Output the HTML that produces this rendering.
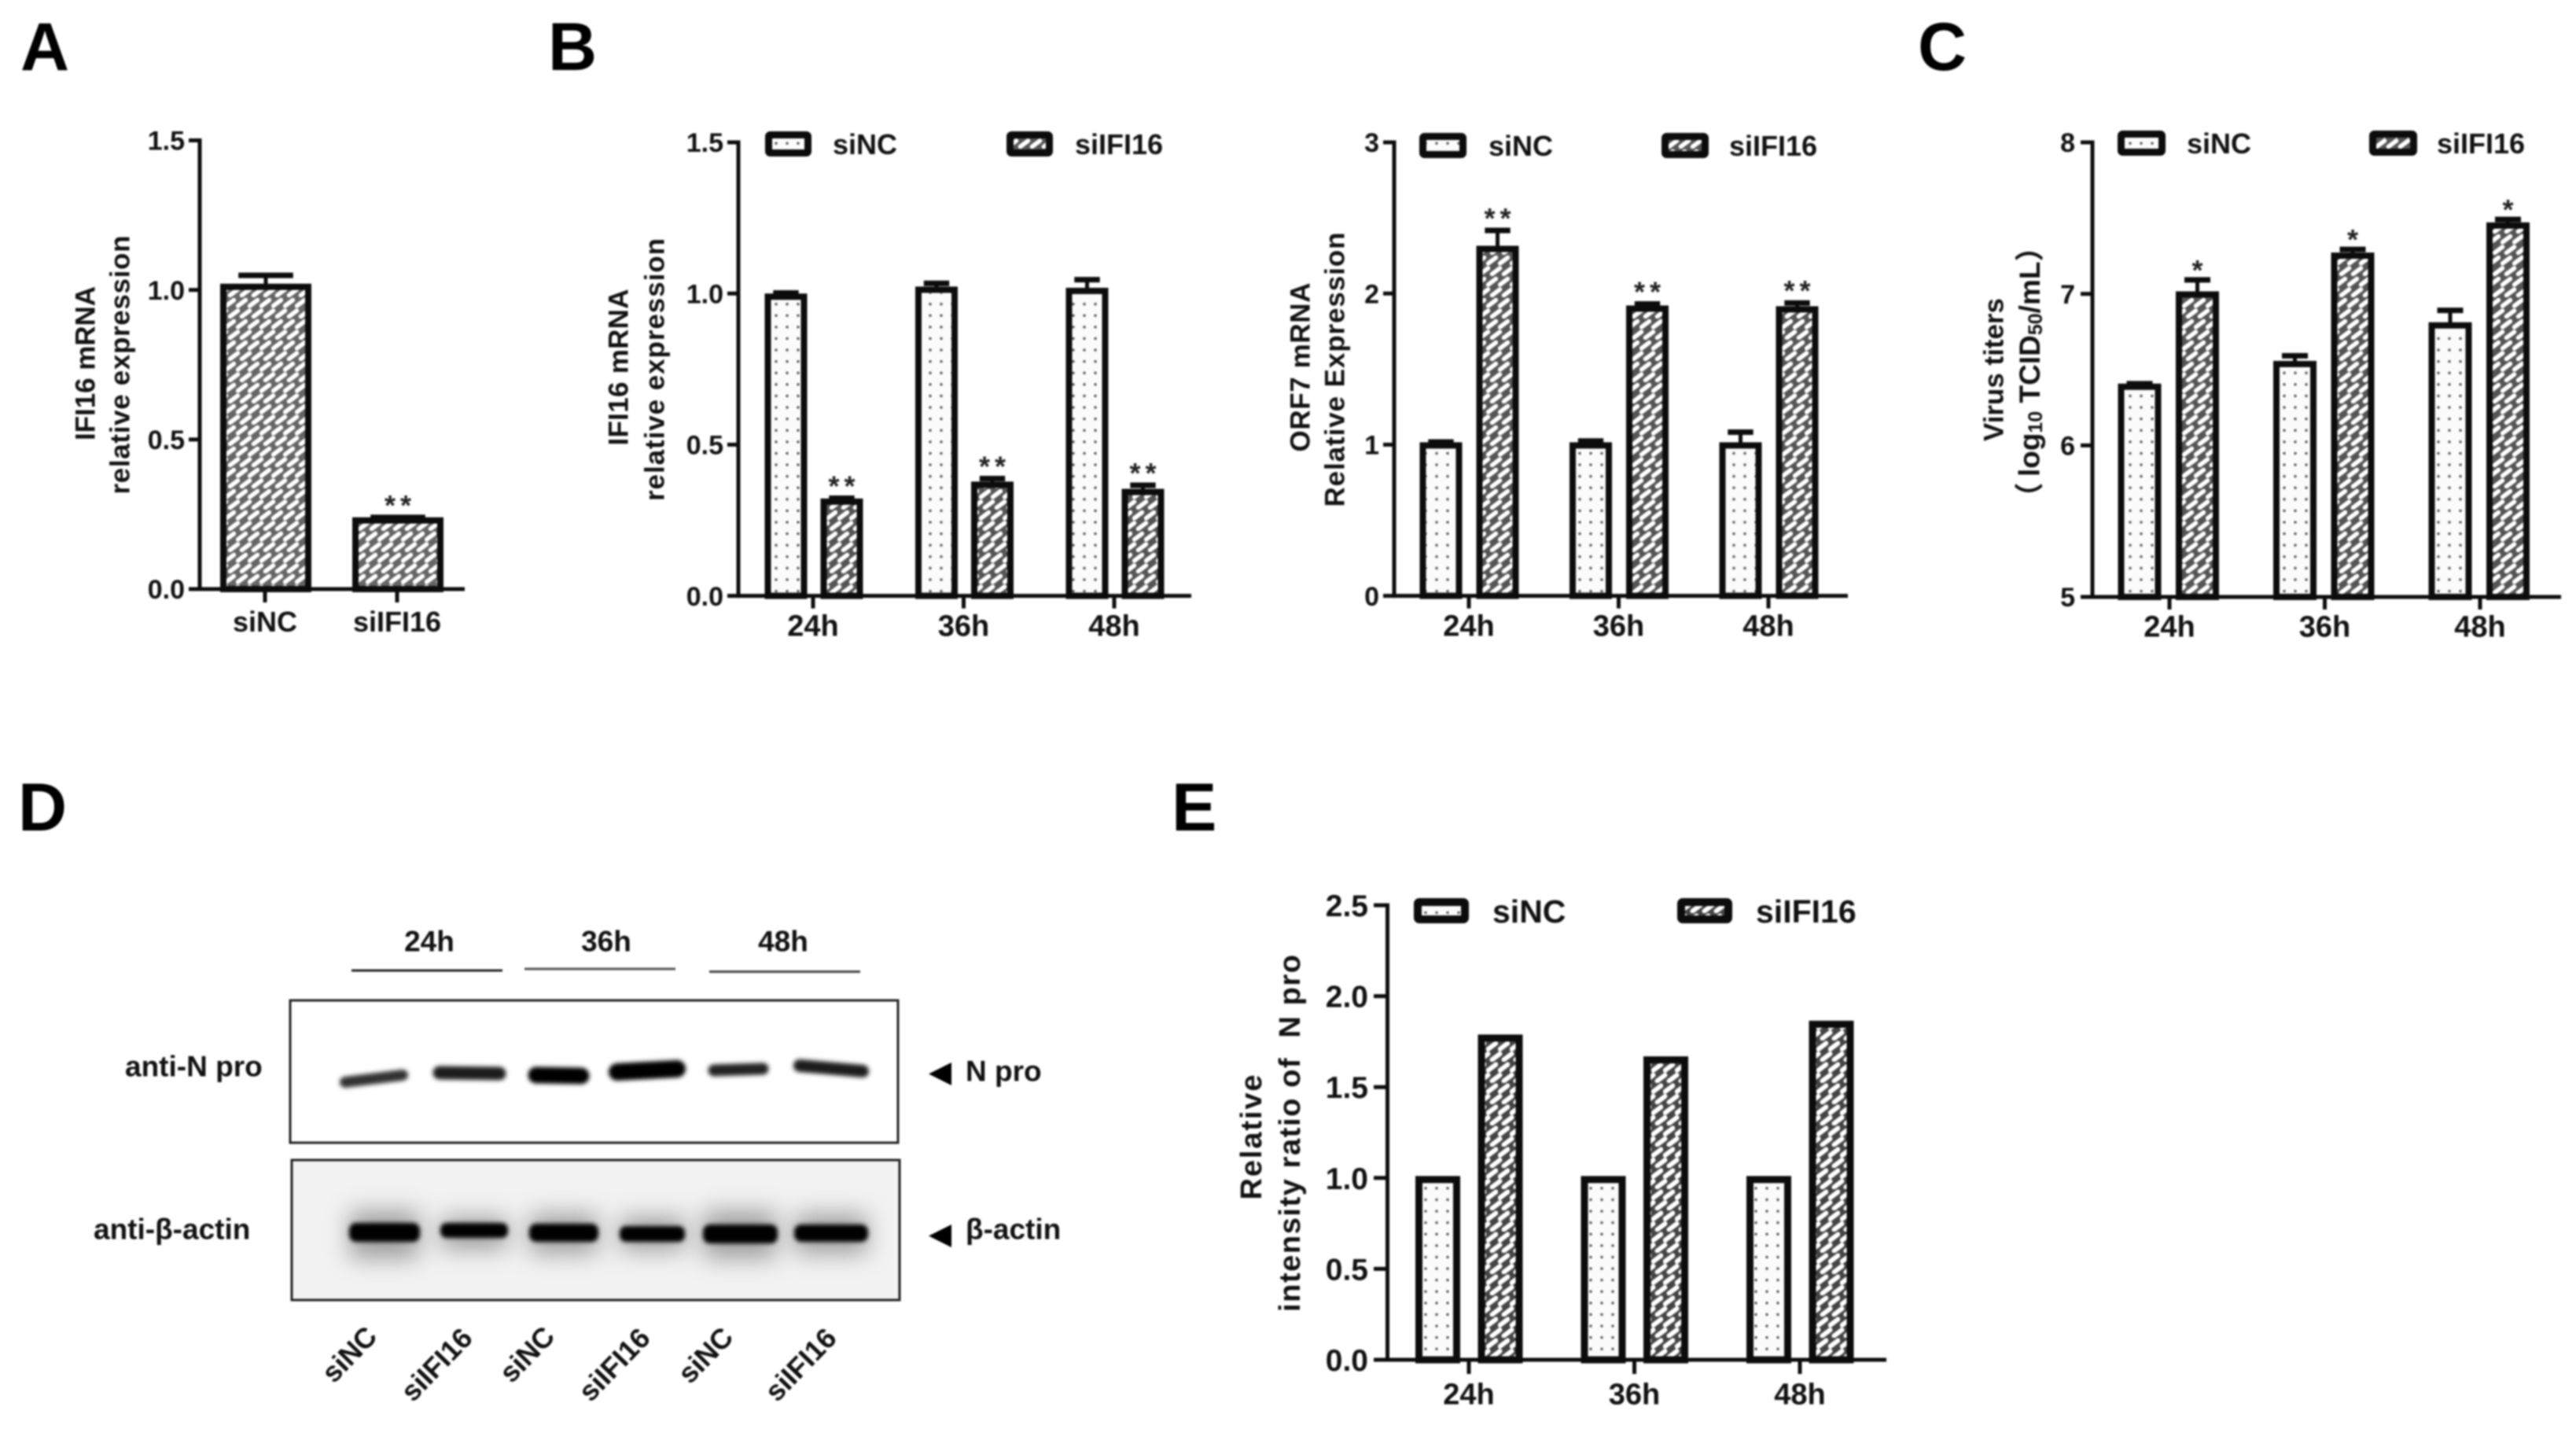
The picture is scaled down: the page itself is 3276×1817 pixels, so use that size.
<!DOCTYPE html>
<html lang="en">
<head>
<meta charset="utf-8">
<title>IFI16 knockdown figure panels</title>
<style>
html,body{margin:0;padding:0;background:#fff;width:3276px;height:1817px;overflow:hidden}
svg{display:block;filter:blur(1px)}
text{font-family:"Liberation Sans","Noto Sans CJK SC",sans-serif;font-weight:bold;fill:#111}
.pl{font-size:86px;fill:#000}
.yt{text-anchor:middle;dominant-baseline:central}
.cl{text-anchor:middle;dominant-baseline:central;font-size:37px}
.ln{text-anchor:middle;dominant-baseline:central;font-size:36px}
.lb{dominant-baseline:central;font-size:37px}
</style>
</head>
<body>
<svg id="figure" xmlns="http://www.w3.org/2000/svg" width="3276" height="1817" viewBox="0 0 3276 1817">
  <defs>
    <pattern id="dots" width="14" height="14.6" patternUnits="userSpaceOnUse">
      <rect width="14" height="14.6" fill="#fbfbfb"/><circle cx="7" cy="7" r="1.7" fill="#555"/>
    </pattern>
    <pattern id="hatch" width="15" height="27" patternUnits="userSpaceOnUse">
      <rect width="15" height="27" fill="#555"/>
      <g stroke="#fff" stroke-width="5.6" stroke-linecap="round" fill="none">
        <path d="M2.5 11L12.5 3.5M7.5 24.5L17.5 17M-7.5 24.5L2.5 17"/>
      </g>
    </pattern>
    <pattern id="hatch-dense" width="15" height="27" patternUnits="userSpaceOnUse">
      <rect width="15" height="27" fill="#666"/>
      <g stroke="#fff" stroke-width="5.6" stroke-linecap="round" fill="none">
        <path d="M2.5 11L12.5 3.5M7.5 24.5L17.5 17M-7.5 24.5L2.5 17"/>
      </g>
    </pattern>
    <pattern id="hatch-wide" width="15" height="27" patternUnits="userSpaceOnUse">
      <rect width="15" height="27" fill="#444"/>
      <g stroke="#fff" stroke-width="6" stroke-linecap="round" fill="none">
        <path d="M2.5 11L12.5 3.5M7.5 24.5L17.5 17M-7.5 24.5L2.5 17"/>
      </g>
    </pattern>
    <filter id="b3" x="-30%" y="-100%" width="160%" height="300%"><feGaussianBlur stdDeviation="2.6"/></filter>
    <filter id="b16" x="-50%" y="-200%" width="200%" height="500%"><feGaussianBlur stdDeviation="15"/></filter>
  </defs>

  <text class="pl" x="26" y="89">A</text>
  <text class="pl" x="697" y="89">B</text>
  <text class="pl" x="2439" y="89">C</text>
  <text class="pl" x="23" y="1056">D</text>
  <text class="pl" x="1490" y="1056">E</text>

  <!-- Y axis titles -->
  <text class="yt" font-size="35" transform="translate(109 462) rotate(-90)" textLength="196">IFI16 mRNA</text>
  <text class="yt" font-size="35" transform="translate(153 464) rotate(-90)" textLength="329">relative expression</text>
  <text class="yt" font-size="35" transform="translate(787 467) rotate(-90)" textLength="199">IFI16 mRNA</text>
  <text class="yt" font-size="35" transform="translate(833 470) rotate(-90)" textLength="334">relative expression</text>
  <text class="yt" font-size="35" transform="translate(1654 467) rotate(-90)" textLength="215">ORF7 mRNA</text>
  <text class="yt" font-size="35" transform="translate(1698 470) rotate(-90)" textLength="349">Relative Expression</text>
  <text class="yt" font-size="35" transform="translate(2536 470) rotate(-90)" textLength="182">Virus titers</text>
  <text class="yt" font-size="37" transform="translate(2581 473) rotate(-90)">（&#8201;log<tspan font-size="25" dy="8">10</tspan><tspan dy="-8"> TCID</tspan><tspan font-size="25" dy="8">50</tspan><tspan dy="-8">/mL）</tspan></text>
  <text class="yt" font-size="38" transform="translate(1592 1446) rotate(-90)" textLength="159">Relative</text>
  <text class="yt" font-size="38" transform="translate(1641 1441) rotate(-90)" textLength="454">intensity ratio of &#160;N pro</text>

  <!-- Panel D western blot -->
  <g>
    <text class="cl" x="546" y="1197">24h</text>
    <text class="cl" x="771" y="1197">36h</text>
    <text class="cl" x="996" y="1197">48h</text>
    <line x1="447" x2="639" y1="1234" y2="1234" stroke="#222" stroke-width="3"/>
    <line x1="667" x2="859" y1="1232" y2="1232" stroke="#555" stroke-width="3"/>
    <line x1="902" x2="1094" y1="1235.5" y2="1235.5" stroke="#444" stroke-width="3"/>

    <rect x="369" y="1272" width="773" height="181" fill="#fff" stroke="#222" stroke-width="3"/>
    <g filter="url(#b3)" fill="none" stroke-linecap="round">
      <line x1="439" y1="1376" x2="512" y2="1367" stroke="#333" stroke-width="14"/>
      <line x1="559" y1="1364" x2="635" y2="1365" stroke="#1c1c1c" stroke-width="17"/>
      <line x1="682" y1="1367" x2="739" y2="1368" stroke="#000" stroke-width="21"/>
      <line x1="785" y1="1363" x2="861" y2="1359" stroke="#000" stroke-width="22"/>
      <line x1="908" y1="1361" x2="970" y2="1359" stroke="#222" stroke-width="15"/>
      <line x1="1017" y1="1355" x2="1097" y2="1362" stroke="#1c1c1c" stroke-width="16"/>
    </g>

    <rect x="371" y="1475" width="773" height="178" fill="#f2f2f2" stroke="#222" stroke-width="3"/>
    <g filter="url(#b16)" fill="#666" opacity=".6">
      <rect x="445" y="1540" width="88" height="60"/>
      <rect x="561" y="1548" width="84" height="40"/>
      <rect x="674" y="1544" width="86" height="50"/>
      <rect x="789" y="1548" width="82" height="42"/>
      <rect x="895" y="1540" width="92" height="60"/>
      <rect x="1011" y="1544" width="92" height="50"/>
    </g>
    <g filter="url(#b3)" fill="#000">
      <rect x="444" y="1555" width="90" height="24" rx="9"/>
      <rect x="560" y="1555" width="86" height="19" rx="8"/>
      <rect x="673" y="1556" width="88" height="23" rx="9"/>
      <rect x="788" y="1559" width="83" height="20" rx="8"/>
      <rect x="894" y="1557" width="95" height="24" rx="9"/>
      <rect x="1010" y="1557" width="94" height="22" rx="9"/>
    </g>

    <text class="lb" x="159" y="1356">anti-N pro</text>
    <text class="lb" x="119" y="1563">anti-β-actin</text>
    <polygon points="1181,1365.5 1210,1351 1210,1380" fill="#000"/>
    <polygon points="1181,1571.5 1210,1557 1210,1586" fill="#000"/>
    <text class="lb" x="1228" y="1362">N pro</text>
    <text class="lb" x="1228" y="1563">β-actin</text>

    <text class="ln" transform="translate(444 1722) rotate(-46)">siNC</text>
    <text class="ln" transform="translate(555 1735) rotate(-46)">siIFI16</text>
    <text class="ln" transform="translate(670 1722) rotate(-46)">siNC</text>
    <text class="ln" transform="translate(781 1735) rotate(-46)">siIFI16</text>
    <text class="ln" transform="translate(897 1723) rotate(-46)">siNC</text>
    <text class="ln" transform="translate(1018 1735) rotate(-46)">siIFI16</text>
  </g>
</svg>

<script>
// ---- Panel A ----
const panelACategories = ['siNC', 'siIFI16'];
const panelAValues = [1.017, 0.236];
const panelAErrors = [0.038, 0.010];
const panelAStars = ['', '**'];
const panelATicks = ['0.0', '0.5', '1.0', '1.5'];

// ---- Shared time points ----
const timeCategories = ['24h', '36h', '48h'];
const legendLabels = ['siNC', 'siIFI16'];

// ---- Panel B, IFI16 ----
const b1SiNC = [0.996, 1.019, 1.015];
const b1SiNCErr = [0.012, 0.021, 0.037];
const b1SiIFI16 = [0.318, 0.374, 0.350];
const b1SiIFI16Err = [0.011, 0.020, 0.022];
const b1Stars = ['**', '**', '**'];
const b1Ticks = ['0.0', '0.5', '1.0', '1.5'];

// ---- Panel B, ORF7 ----
const b2SiNC = [1.008, 1.008, 1.008];
const b2SiNCErr = [0.022, 0.029, 0.087];
const b2SiIFI16 = [2.308, 1.913, 1.908];
const b2SiIFI16Err = [0.122, 0.030, 0.042];
const b2Stars = ['**', '**', '**'];
const b2Ticks = ['0', '1', '2', '3'];

// ---- Panel C ----
const cSiNC = [6.40, 6.55, 6.805];
const cSiNCErr = [0.02, 0.054, 0.099];
const cSiIFI16 = [7.009, 7.265, 7.464];
const cSiIFI16Err = [0.096, 0.041, 0.040];
const cStars = ['*', '*', '*'];
const cTicks = ['5', '6', '7', '8'];

// ---- Panel E ----
const eSiNC = [1.0, 1.0, 1.0];
const eSiIFI16 = [1.778, 1.658, 1.854];
const eTicks = ['0.0', '0.5', '1.0', '1.5', '2.0', '2.5'];

const NS = 'http://www.w3.org/2000/svg';
const figure = document.getElementById('figure');

function mk(parent, tag, name, attrs, txt) {
  const el = document.createElementNS(NS, tag);
  
  
  for (const k in attrs) el.setAttribute(k, attrs[k]);
  if (txt !== undefined) el.textContent = txt;
  parent.appendChild(el);
  return el;
}

function drawChart(id, frame, categories, ticks, series) {
  const g = mk(figure, 'g', id + '-chart', {});
  const lo = parseFloat(ticks[0]);
  const hi = parseFloat(ticks[ticks.length - 1]);
  const yScale = v => frame.y0 - (v - lo) / (hi - lo) * (frame.y0 - frame.yTop);
  const xTick = i => frame.x0 + i * frame.step;
  const ink = '#0c0c0c';

  series.forEach(s => {
    s.values.forEach((v, i) => {
      const cx = xTick(i) + s.offset;
      const top = yScale(v) - frame.topNudge;
      const bw = frame.barW;
      const sw = frame.barStroke;
      const err = s.errors ? s.errors[i] : 0;
      let capY = top;
      if (err > 0) {
        const capW = bw * 0.6;
        capY = yScale(v + err) + 2.4;
        mk(g, 'line', id + '-' + s.key + '-error-stem-' + categories[i], {x1: cx, x2: cx, y1: top + 3, y2: capY, stroke: ink, 'stroke-width': 5});
        mk(g, 'line', id + '-' + s.key + '-error-cap-' + categories[i], {x1: cx - capW / 2, x2: cx + capW / 2, y1: capY, y2: capY, stroke: ink, 'stroke-width': 7});
      }
      mk(g, 'rect', id + '-' + s.key + '-bar-' + categories[i], {
        x: cx - bw / 2 + sw / 2, y: top + sw / 2,
        width: bw - sw, height: frame.y0 - top - sw / 2,
        fill: 'url(#' + s.pattern + ')', stroke: ink, 'stroke-width': sw
      });
      const star = s.stars ? s.stars[i] : '';
      if (star) {
        const cy = capY - (star.length > 1 ? 20 : 17);
        mk(g, 'text', id + '-' + s.key + '-significance-' + categories[i], {
          x: cx + (star.length > 1 ? 3 : 0), y: cy + 17, 'text-anchor': 'middle', 'font-size': 36,
          'letter-spacing': star.length > 1 ? 6 : 0,
          style: 'fill:#222'
        }, star);
      }
    });
  });

  mk(g, 'line', id + '-y-axis', {x1: frame.xAxis, x2: frame.xAxis, y1: frame.yTop - 2.5, y2: frame.y0 + 2.5, stroke: ink, 'stroke-width': 5});
  mk(g, 'line', id + '-x-axis', {x1: frame.xStart, x2: frame.xEnd, y1: frame.y0, y2: frame.y0, stroke: ink, 'stroke-width': 5});

  ticks.forEach(t => {
    const y = yScale(parseFloat(t));
    if (parseFloat(t) !== lo) {
      mk(g, 'line', id + '-y-tick-' + t, {x1: frame.xStart, x2: frame.xAxis, y1: y, y2: y, stroke: ink, 'stroke-width': 5});
    }
    mk(g, 'text', id + '-y-tick-label-' + t, {
      x: frame.xStart - frame.labelGap, y: y + frame.tickFont * 0.36,
      'text-anchor': 'end', 'font-size': frame.tickFont
    }, t);
  });

  categories.forEach((c, i) => {
    const x = xTick(i);
    mk(g, 'line', id + '-x-tick-' + c, {x1: x, x2: x, y1: frame.y0, y2: frame.y0 + frame.tickLen, stroke: ink, 'stroke-width': 5});
    mk(g, 'text', id + '-x-tick-label-' + c, {
      x: x, y: frame.labelY + frame.catFont * 0.36,
      'text-anchor': 'middle', 'font-size': frame.catFont
    }, c);
  });
  return g;
}

function drawLegend(id, entries, box, font) {
  const g = mk(figure, 'g', id + '-legend', {});
  entries.forEach((e, i) => {
    mk(g, 'rect', id + '-legend-swatch-' + legendLabels[i], {
      x: e.boxX + box.sw / 2, y: box.y + box.sw / 2,
      width: box.w - box.sw, height: box.h - box.sw, rx: 2,
      fill: 'url(#' + e.pattern + ')', stroke: '#0c0c0c', 'stroke-width': box.sw
    });
    mk(g, 'text', id + '-legend-label-' + legendLabels[i], {
      x: e.textX, y: box.y + box.h / 2 + font * 0.36, 'font-size': font
    }, legendLabels[i]);
  });
}

drawChart('panel-a',
  {x0: 337, step: 168, y0: 749, yTop: 178.5, xAxis: 254, xStart: 240, xEnd: 591, barW: 116, barStroke: 8, topNudge: 1.5, tickLen: 17, labelGap: 5, tickFont: 34, catFont: 36, labelY: 790},
  panelACategories, panelATicks,
  [{key: 'sirna', offset: 1, pattern: 'hatch-dense', values: panelAValues, errors: panelAErrors, stars: panelAStars}]);

drawChart('panel-b1',
  {x0: 1034, step: 191.5, y0: 757.6, yTop: 181, xAxis: 939, xStart: 925, xEnd: 1515, barW: 54, barStroke: 8, topNudge: 1.5, tickLen: 16, labelGap: 5, tickFont: 34, catFont: 38, labelY: 795},
  timeCategories, b1Ticks,
  [{key: 'sinc', offset: -34.5, pattern: 'dots', values: b1SiNC, errors: b1SiNCErr},
   {key: 'siifi16', offset: 36.5, pattern: 'hatch', values: b1SiIFI16, errors: b1SiIFI16Err, stars: b1Stars}]);
drawLegend('panel-b1', [{boxX: 973, textX: 1059, pattern: 'dots'}, {boxX: 1280, textX: 1367, pattern: 'hatch'}], {y: 167, w: 59, h: 32, sw: 9}, 36);

drawChart('panel-b2',
  {x0: 1868, step: 190.5, y0: 757.6, yTop: 181, xAxis: 1773, xStart: 1759, xEnd: 2350, barW: 54, barStroke: 8, topNudge: 1.5, tickLen: 16, labelGap: 5, tickFont: 34, catFont: 38, labelY: 795},
  timeCategories, b2Ticks,
  [{key: 'sinc', offset: -35.5, pattern: 'dots', values: b2SiNC, errors: b2SiNCErr},
   {key: 'siifi16', offset: 36.5, pattern: 'hatch', values: b2SiIFI16, errors: b2SiIFI16Err, stars: b2Stars}]);
drawLegend('panel-b2', [{boxX: 1805, textX: 1893, pattern: 'dots'}, {boxX: 2113, textX: 2199, pattern: 'hatch'}], {y: 169, w: 60, h: 32, sw: 9}, 36);

drawChart('panel-c',
  {x0: 2759, step: 197.5, y0: 759, yTop: 181, xAxis: 2661, xStart: 2646, xEnd: 3257, barW: 55, barStroke: 8, topNudge: 1.5, tickLen: 16, labelGap: 7, tickFont: 34, catFont: 38, labelY: 796},
  timeCategories, cTicks,
  [{key: 'sinc', offset: -38, pattern: 'dots', values: cSiNC, errors: cSiNCErr},
   {key: 'siifi16', offset: 35.5, pattern: 'hatch', values: cSiIFI16, errors: cSiIFI16Err, stars: cStars}]);
drawLegend('panel-c', [{boxX: 2693, textX: 2781, pattern: 'dots'}, {boxX: 3013, textX: 3099, pattern: 'hatch'}], {y: 166, w: 61, h: 32, sw: 9}, 36);

drawChart('panel-e',
  {x0: 1868, step: 210.5, y0: 1729, yTop: 1151, xAxis: 1764.5, xStart: 1747, xEnd: 2399, barW: 57, barStroke: 9, topNudge: 2.5, tickLen: 18, labelGap: 7, tickFont: 39, catFont: 38, labelY: 1772},
  timeCategories, eTicks,
  [{key: 'sinc', offset: -39.5, pattern: 'dots', values: eSiNC},
   {key: 'siifi16', offset: 40, pattern: 'hatch-wide', values: eSiIFI16}]);
drawLegend('panel-e', [{boxX: 1798, textX: 1898, pattern: 'dots'}, {boxX: 2133, textX: 2233, pattern: 'hatch-wide'}], {y: 1142, w: 70, h: 32, sw: 10}, 41);
</script>
</body>
</html>
